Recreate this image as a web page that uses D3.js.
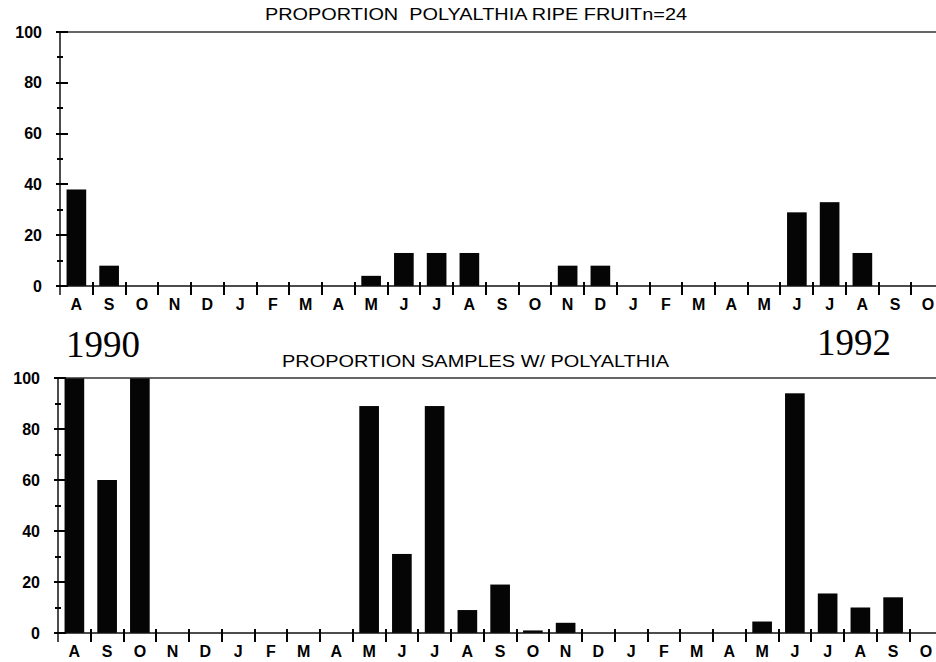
<!DOCTYPE html>
<html>
<head>
<meta charset="utf-8">
<script src="https://cdn.jsdelivr.net/npm/d3@7"></script>
<style>
  body { margin: 0; background: #fff; }
  svg { display: block; }
  .tick text { font-family: "Liberation Sans", Arial, sans-serif; }
  .tk .domain { display: none; }
</style>
</head>
<body>
<div id="chart"></div>
<script>
// month sequence, Aug 1990 -> Oct 1992
var months = ["A","S","O","N","D","J","F","M","A","M","J","J","A","S","O","N","D","J","F","M","A","M","J","J","A","S","O"];

// proportion of ripe Polyalthia fruit (%)
var ripeFruit = [38, 8, 0, 0, 0, 0, 0, 0, 0, 4, 13, 13, 13, 0, 0, 8, 8, 0, 0, 0, 0, 0, 29, 33, 13, 0, 0];

// proportion of samples with Polyalthia (%)
var samples = [100, 60, 100, 0, 0, 0, 0, 0, 0, 89, 31, 89, 9, 19, 1, 4, 0, 0, 0, 0, 0, 4.5, 94, 15.5, 10, 14, 0];

var yMajor = [0, 20, 40, 60, 80, 100];
var yMinor = [10, 30, 50, 70, 90];

var titles = ["PROPORTION  POLYALTHIA RIPE FRUITn=24", "PROPORTION SAMPLES W/ POLYALTHIA"];
var years = ["1990", "1992"];

var svgWidth = 936;
var svgHeight = 662;

var svg = d3.select("#chart")
  .append("svg")
  .attr("width", svgWidth)
  .attr("height", svgHeight);

// one panel = title, axes, bars
function drawPanel(values, title, opt) {
  var g = svg.append("g");
  var step = 32.75;
  var right = opt.left + step * months.length;

  var x = d3.scaleBand()
    .domain(d3.range(months.length))
    .range([opt.left, right])
    .paddingInner(0.4)
    .paddingOuter(0.2);

  // boundaries between months
  var xb = d3.scaleLinear()
    .domain([0, months.length])
    .range([opt.left, right]);

  var y = d3.scaleLinear()
    .domain([0, 100])
    .range([opt.bottom, opt.top]);

  // bars
  g.selectAll("rect.bar")
    .data(values)
    .enter()
    .append("rect")
    .attr("class", "bar")
    .attr("x", (d, i) => x(i))
    .attr("width", x.bandwidth())
    .attr("y", d => y(d))
    .attr("height", d => y(0) - y(d))
    .attr("fill", "#050505");

  // top frame line
  g.append("line")
    .attr("x1", opt.left).attr("x2", svgWidth)
    .attr("y1", y(100)).attr("y2", y(100))
    .attr("stroke", "#333").attr("stroke-width", 1.5);

  // x baseline
  g.append("line")
    .attr("x1", opt.left).attr("x2", svgWidth)
    .attr("y1", y(0)).attr("y2", y(0))
    .attr("stroke", "#111").attr("stroke-width", 1.5);

  // ticks between months (cross the baseline)
  g.selectAll("rect.bt")
    .data(d3.range(1, months.length))
    .enter()
    .append("rect")
    .attr("class", "bt")
    .attr("x", d => Math.round(xb(d)) - 1)
    .attr("y", Math.round(y(0)) - 4)
    .attr("width", 2)
    .attr("height", 13)
    .attr("fill", "#000");

  // month labels
  var xAxis = g.append("g")
    .attr("transform", `translate(0, ${y(0)})`)
    .call(d3.axisBottom(x).tickSize(0).tickPadding(13).tickFormat(i => months[i]));
  xAxis.select(".domain").remove();
  xAxis.selectAll("text")
    .attr("font-size", "16px")
    .attr("font-weight", "bold")
    .attr("fill", "#000");

  // y axis line
  g.append("line")
    .attr("x1", opt.left).attr("x2", opt.left)
    .attr("y1", y(100)).attr("y2", y(0) + 9)
    .attr("stroke", "#111").attr("stroke-width", 1.5);

  // y labels
  var yAxis = g.append("g")
    .attr("class", "tk")
    .attr("transform", `translate(${opt.left}, 0)`)
    .call(d3.axisLeft(y).tickValues(yMajor).tickSize(0).tickPadding(18));
  yAxis.selectAll("text")
    .attr("font-size", "16px")
    .attr("font-weight", "bold")
    .attr("fill", "#000");

  // major / minor ticks
  g.selectAll("rect.ymaj")
    .data(yMajor)
    .enter()
    .append("rect")
    .attr("class", "ymaj")
    .attr("x", opt.left - 4)
    .attr("y", d => Math.round(y(d)) - 1)
    .attr("width", 12)
    .attr("height", 2)
    .attr("fill", "#000");

  g.selectAll("rect.ymin")
    .data(yMinor)
    .enter()
    .append("rect")
    .attr("class", "ymin")
    .attr("x", opt.left - 3)
    .attr("y", d => Math.round(y(d)) - 1)
    .attr("width", 6)
    .attr("height", 2)
    .attr("fill", "#000");

  // title
  g.append("text")
    .attr("x", opt.titleX)
    .attr("y", opt.titleY)
    .attr("font-family", "Liberation Sans, Arial, sans-serif")
    .attr("font-size", "16px")
    .attr("textLength", opt.titleW)
    .attr("lengthAdjust", "spacingAndGlyphs")
    .attr("fill", "#000")
    .style("white-space", "pre")
    .text(title);
}

drawPanel(ripeFruit, titles[0], { left: 60, top: 32, bottom: 286, titleX: 265, titleY: 20, titleW: 422 });
drawPanel(samples, titles[1], { left: 58, top: 378, bottom: 633, titleX: 282, titleY: 367, titleW: 387 });

// year labels
svg.append("text")
  .attr("x", 66).attr("y", 357)
  .attr("font-family", "Liberation Serif, Times New Roman, serif")
  .attr("font-size", "37px")
  .attr("fill", "#000")
  .text(years[0]);

svg.append("text")
  .attr("x", 817).attr("y", 355)
  .attr("font-family", "Liberation Serif, Times New Roman, serif")
  .attr("font-size", "37px")
  .attr("fill", "#000")
  .text(years[1]);
</script>
</body>
</html>
